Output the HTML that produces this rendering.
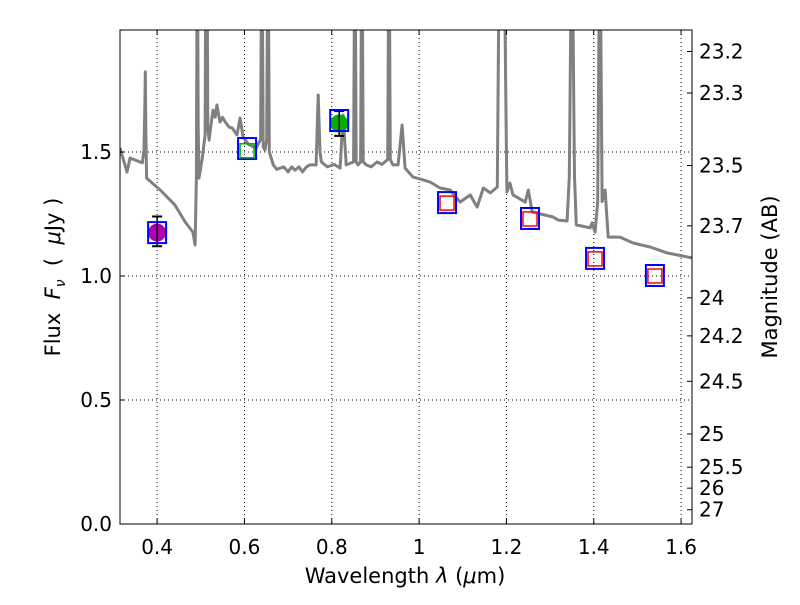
<!DOCTYPE html>
<html><head><meta charset="utf-8"><style>
body{margin:0;background:#fff}
svg text{font-family:"DejaVu Sans","Liberation Sans",sans-serif;fill:#000}
</style></head><body>
<svg id="chart" width="800" height="600" xmlns="http://www.w3.org/2000/svg">
<defs><clipPath id="clip"><rect x="120" y="30" width="572" height="494"/></clipPath></defs>
<rect width="800" height="600" fill="#fff"/>
<g id="grid"></g>
<g id="plot" clip-path="url(#clip)"></g>
<rect x="120" y="30" width="572" height="494" fill="none" stroke="#000" stroke-width="1"/>
<g id="axes"></g>
<text x="405" y="583" font-size="21" text-anchor="middle">Wavelength  <tspan font-style="italic">λ</tspan> (<tspan font-style="italic">μ</tspan>m)</text>
<text transform="translate(60,277) rotate(-90)" font-size="21" text-anchor="middle" xml:space="preserve">Flux  <tspan font-style="italic">F</tspan><tspan font-style="italic" font-size="14" dy="5">ν</tspan><tspan dy="-5">  (  </tspan><tspan font-style="italic">μ</tspan>Jy )</text>
<text transform="translate(777,277) rotate(-90)" font-size="21" text-anchor="middle">Magnitude (AB)</text>
</svg>
<script>
const specW=[0.315,0.331,0.338,0.366,0.370,0.372,0.373,0.374,0.376,0.407,0.441,0.464,0.482,0.487,0.490,0.492,0.494,0.496,0.503,0.510,0.512,0.514,0.516,0.519,0.524,0.528,0.533,0.537,0.544,0.550,0.556,0.565,0.572,0.583,0.590,0.597,0.610,0.627,0.637,0.640,0.643,0.647,0.651,0.654,0.657,0.666,0.674,0.682,0.690,0.700,0.708,0.716,0.725,0.733,0.742,0.750,0.764,0.769,0.773,0.776,0.790,0.805,0.819,0.826,0.833,0.850,0.853,0.856,0.860,0.866,0.869,0.872,0.879,0.890,0.904,0.915,0.928,0.931,0.934,0.940,0.952,0.961,0.968,0.986,1.005,1.025,1.048,1.071,1.094,1.117,1.133,1.147,1.163,1.179,1.182,1.186,1.190,1.194,1.198,1.201,1.208,1.215,1.243,1.250,1.259,1.307,1.318,1.339,1.344,1.350,1.356,1.360,1.392,1.396,1.403,1.409,1.414,1.419,1.426,1.433,1.460,1.490,1.529,1.568,1.625];
const specF=[1.516,1.419,1.476,1.456,1.508,1.70,1.823,1.60,1.395,1.347,1.286,1.218,1.177,1.125,1.40,2.5,1.60,1.395,1.47,1.569,2.5,2.5,1.60,1.548,1.62,1.669,1.64,1.690,1.621,1.64,1.621,1.60,1.597,1.569,1.637,1.560,1.53,1.516,1.55,2.5,1.52,1.508,1.55,2.5,1.50,1.448,1.43,1.435,1.44,1.42,1.44,1.427,1.44,1.42,1.44,1.448,1.448,1.730,1.50,1.460,1.44,1.45,1.435,1.649,1.448,1.46,2.5,1.46,1.448,1.46,2.5,1.46,1.448,1.44,1.460,1.45,1.47,2.5,1.47,1.448,1.448,1.609,1.435,1.399,1.39,1.379,1.355,1.347,1.298,1.327,1.278,1.355,1.335,1.359,2.0,2.5,2.5,2.5,1.8,1.339,1.375,1.327,1.298,1.347,1.258,1.238,1.226,1.222,1.40,2.5,1.40,1.206,1.194,1.214,1.177,1.30,2.5,1.30,1.347,1.157,1.157,1.133,1.117,1.093,1.073];
const photW=[0.400,0.606,0.817,1.064,1.254,1.403,1.540];
const photF=[1.173,1.512,1.625,1.294,1.230,1.069,1.000];
const errW=[0.400,0.817];
const errF=[1.180,1.615];
const errE=[0.060,0.050];
const circW=[0.400,0.817];
const circF=[1.175,1.615];
const circC=['#b000b0','#00b000'];
const greenSqW=[0.606];
const greenSqF=[1.505];
const redSqW=[1.064,1.254,1.403,1.540];
const redSqF=[1.294,1.230,1.069,1.000];
const xTicks=[0.4,0.6,0.8,1.0,1.2,1.4,1.6];
const xTickLabels=['0.4','0.6','0.8','1','1.2','1.4','1.6'];
const yTicks=[0,0.5,1.0,1.5];
const yTickLabels=['0.0','0.5','1.0','1.5'];
const magTicks=[23.2,23.3,23.5,23.7,24,24.2,24.5,25,25.5,26,27];
const magTickLabels=['23.2','23.3','23.5','23.7','24','24.2','24.5','25','25.5','26','27'];

const X0=120,X1=692,Y0=524,Y1=30,xmin=0.315,xmax=1.625,ymin=0,ymax=1.992;
const xs=w=>X0+(w-xmin)/(xmax-xmin)*(X1-X0);
const ys=f=>Y0-(f-ymin)/(ymax-ymin)*(Y0-Y1);
const NS='http://www.w3.org/2000/svg';
function mk(tag,attrs,parent){const e=document.createElementNS(NS,tag);for(const k in attrs)e.setAttribute(k,attrs[k]);parent.appendChild(e);return e;}
const grid=document.getElementById('grid'),plot=document.getElementById('plot'),axes=document.getElementById('axes');

xTicks.forEach((t,i)=>{const x=xs(t);
 const g=mk('line',{x1:x,x2:x,y1:Y1,y2:Y0,stroke:'#000','stroke-dasharray':'1,3','stroke-width':1},grid);
 
 
 mk('line',{x1:x,x2:x,y1:Y0,y2:Y0-5,stroke:'#000'},axes);
 mk('line',{x1:x,x2:x,y1:Y1,y2:Y1+5,stroke:'#000'},axes);
 const tx=mk('text',{x:x,y:554,'font-size':20,'text-anchor':'middle'},axes);tx.textContent=xTickLabels[i];
 
 
});
yTicks.forEach((t,i)=>{const y=ys(t);
 const g=mk('line',{x1:X0,x2:X1,y1:y,y2:y,stroke:'#000','stroke-dasharray':'1,3','stroke-width':1},grid);
 
 
 mk('line',{x1:X0,x2:X0+5,y1:y,y2:y,stroke:'#000'},axes);
 const tx=mk('text',{x:112,y:y+7,'font-size':20,'text-anchor':'end'},axes);tx.textContent=yTickLabels[i];
 
 
});
magTicks.forEach((m,i)=>{const f=Math.pow(10,(23.9-m)/2.5);const y=ys(f);
 mk('line',{x1:X1,x2:X1-5,y1:y,y2:y,stroke:'#000'},axes);
 const tx=mk('text',{x:699,y:y+7,'font-size':20,'text-anchor':'start'},axes);tx.textContent=magTickLabels[i];
 
 
});

const pts=specW.map((w,i)=>xs(w).toFixed(1)+','+ys(specF[i]).toFixed(1)).join(' ');
const sp=mk('polyline',{points:pts,fill:'none',stroke:'#808080','stroke-width':3,'stroke-linejoin':'round'},plot);



circW.forEach((w,i)=>{const c=mk('circle',{cx:xs(w),cy:ys(circF[i]),r:9,fill:circC[i]},plot);
 
 });
errW.forEach((w,i)=>{const x=xs(w),ya=ys(errF[i]+errE[i]),yb=ys(errF[i]-errE[i]);
 const l=mk('line',{x1:x,x2:x,y1:ya,y2:yb,stroke:'#000','stroke-width':1.5},plot);
 
 
 mk('line',{x1:x-5,x2:x+5,y1:ya,y2:ya,stroke:'#000','stroke-width':2},plot);
 mk('line',{x1:x-5,x2:x+5,y1:yb,y2:yb,stroke:'#000','stroke-width':2},plot);});
photW.forEach((w,i)=>{const r=mk('rect',{x:xs(w)-9,y:ys(photF[i])-11,width:18,height:21,fill:'none',stroke:'#0000ff','stroke-width':2},plot);
 
 });
greenSqW.forEach((w,i)=>{const r=mk('rect',{x:xs(w)-7,y:ys(greenSqF[i])-7,width:14,height:14,fill:'none',stroke:'#00b000','stroke-width':1.5},plot);
 
 });
redSqW.forEach((w,i)=>{const r=mk('rect',{x:xs(w)-7,y:ys(redSqF[i])-7,width:14,height:14,fill:'none',stroke:'#ff0000','stroke-width':1.5},plot);
 
 });
</script>
</body></html>
